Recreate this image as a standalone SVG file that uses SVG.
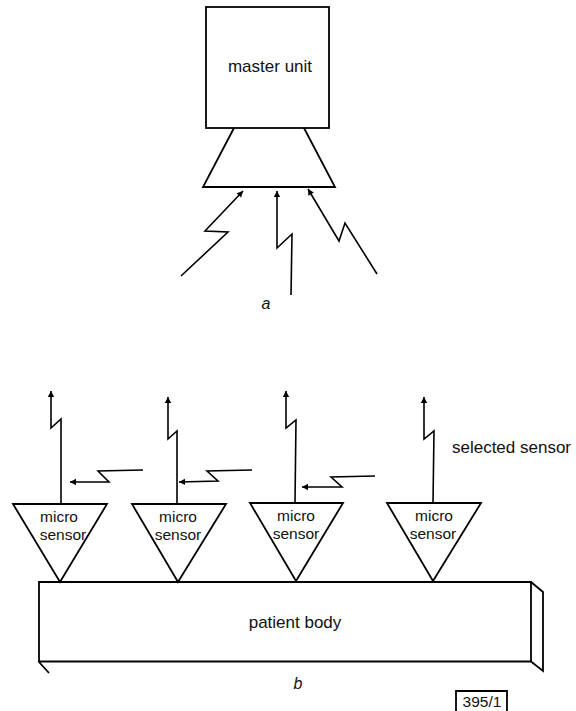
<svg xmlns="http://www.w3.org/2000/svg" width="576" height="711" viewBox="0 0 576 711">
<defs>
<style>
text{font-family:"Liberation Sans",Arial,sans-serif;fill:#111;font-size:15.5px;text-anchor:middle}
.s{fill:none;stroke:#000;stroke-width:1.8}
.c{fill:none;stroke:#000;stroke-width:1.6;marker-end:url(#a)}
.i{font-style:italic;font-size:16px}
.l{font-size:17px}
</style>
<marker id="a" markerUnits="userSpaceOnUse" markerWidth="8" markerHeight="8" refX="7" refY="4" orient="auto"><path d="M1 .8L7 4L1 7.2Z" fill="#000"/></marker>
</defs>
<rect width="576" height="711" fill="#fff"/>
<g id="master-unit"><rect class="s" x="206" y="7" width="123" height="121"/><text class="l" x="270" y="72">master unit</text></g>
<g id="receiver"><path class="s" d="M234 128L203 187H335L304 128"/></g>
<g id="connectors">
<path class="c" d="M181 276L228 232L205 231L243 191"/>
<path class="c" d="M291 295L292 234L277 248V191"/>
<path class="c" d="M377 274L345 223L339 241L308 189"/>
<path class="c" d="M61 503V419L51 428V391"/>
<path class="c" d="M177 503V431L168 439V397"/>
<path class="c" d="M295 503L296 420L286 428V391"/>
<path class="c" d="M433 503L434 431L424 439V397"/>
<path class="c" d="M143 470L98 471L109 482H70"/>
<path class="c" d="M252 470L207 471L218 481L179 482"/>
<path class="c" d="M375 476L331 477L342 487H302"/>
</g>
<g id="sensor-1"><path class="s" d="M13 504H107L60 582Z"/><text x="59" y="522">micro</text><text x="63" y="540">sensor</text></g>
<g id="sensor-2"><path class="s" d="M132 504H226L178 582Z"/><text x="178" y="522">micro</text><text x="178" y="540">sensor</text></g>
<g id="sensor-3"><path class="s" d="M250 503H343L296 581Z"/><text x="296" y="521">micro</text><text x="296" y="539">sensor</text></g>
<g id="sensor-4"><path class="s" d="M387 503H481L433 581Z"/><text x="434" y="521">micro</text><text x="433" y="539">sensor</text></g>
<g id="patient-body"><path class="s" d="M39 582H531V661.500H39ZM531 582L543 592V671L531 661.500M39 662L49 673"/><text class="l" x="295" y="628">patient body</text></g>
<text class="l" x="511.500" y="453">selected sensor</text>
<text class="i" x="266" y="309">a</text>
<text class="i" x="298" y="689">b</text>
<g id="label"><path class="s" d="M456 711V691H507V711"/><text x="482" y="707">395/1</text></g>
</svg>
